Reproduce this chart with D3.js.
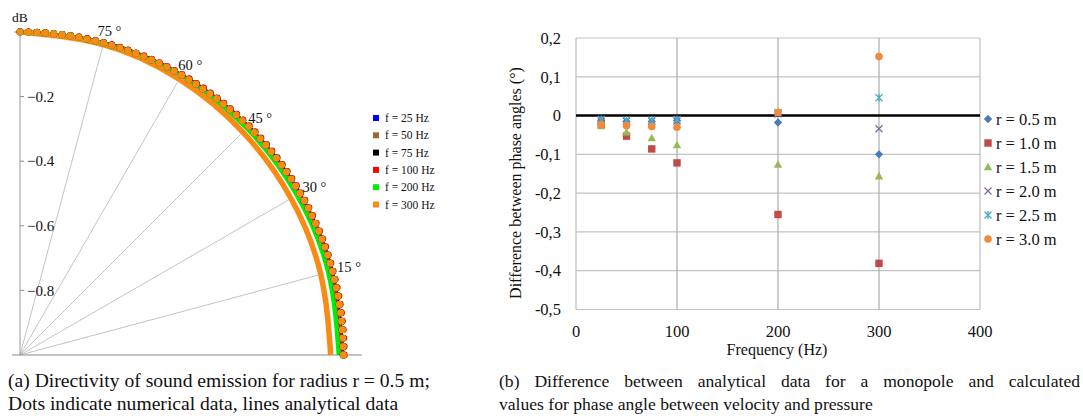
<!DOCTYPE html>
<html><head><meta charset="utf-8">
<script src="https://cdn.jsdelivr.net/npm/d3@7"></script>
<style>
body{margin:0;background:#fff}
svg{display:block}
text{font-family:"Liberation Serif","Times New Roman",serif;fill:#111}
</style>
</head><body>
<svg id="c" width="1083" height="416"></svg>
<script>
// ---------- (a) directivity, polar quarter plot ----------
const freqLabels = ["f = 25 Hz", "f = 50 Hz", "f = 75 Hz", "f = 100 Hz", "f = 200 Hz", "f = 300 Hz"];
const freqColors = ["#0000ff", "#9a6632", "#000000", "#ff0000", "#00ee00", "#f98a14"];
const polarTicks = [-0.2, -0.4, -0.6, -0.8];
const spokeAngles = [15, 30, 45, 60, 75];

// analytical curves (dB), sampled at these angles
const lineAngles = [0, 15, 30, 45, 60, 75, 90];
const line25  = [-0.001, -0.001, -0.001, 0, 0, 0, 0];
const line50  = [-0.001, -0.001, -0.001, -0.001, 0, 0, 0];
const line75  = [-0.002, -0.002, -0.002, -0.001, -0.001, 0, 0];
const line100 = [-0.004, -0.004, -0.003, -0.002, -0.001, 0, 0];
const line200 = [-0.013, -0.012, -0.010, -0.007, -0.004, -0.001, 0];
const line300 = [-0.038, -0.036, -0.031, -0.024, -0.014, -0.005, 0];

// numerical results (dB), one per evaluated angle
const dotAngles = [0,1.5,3,4.5,6,7.5,9,10.5,12,13.5,15,16.5,18,19.5,21,22.5,24,25.5,27,28.5,
  30,31.5,33,34.5,36,37.5,39,40.5,42,43.5,45,46.5,48,49.5,51,52.5,54,55.5,57,58.5,
  60,61.5,63,64.5,66,67.5,69,70.5,72,73.5,75,76.5,78,79.5,81,82.5,84,85.5,87,88.5,90];
const dots25  = [0,0,0,0,0,0,0,0,0,0, 0,0,0,0,0,0,0,0,0,0, 0,0,0,0,0,0,0,0,0,0,
  0,0,0,0,0,0,0,0,0,0, 0,0,0,0,0,0,0,0,0,0, 0,0,0,0,0,0,0,0,0,0, 0];
const dots50  = [0.001,0.001,0.001,0.001,0.001,0.001,0.001,0.001,0.001,0.001,
  0.001,0.001,0.001,0.001,0.001,0.001,0.001,0.001,0.001,0.001, 0,0,0,0,0,0,0,0,0,0,
  0,0,0,0,0,0,0,0,0,0, 0,0,0,0,0,0,0,0,0,0, 0,0,0,0,0,0,0,0,0,0, 0];
const dots75  = [0.002,0.002,0.002,0.002,0.002,0.002,0.002,0.002,0.002,0.002,
  0.002,0.002,0.002,0.002,0.002,0.002,0.002,0.002,0.002,0.002,
  0.002,0.002,0.002,0.002,0.002,0.002,0.002,0.002,0.002,0.002,
  0.002,0.002,0.002,0.002,0.002,0.002,0.002,0.002,0.002,0.002,
  0.001,0.001,0.001,0.001,0.001,0.001,0.001,0.001,0.001,0.001,
  0.001,0.001,0.001,0.001,0.001,0.001,0.001,0.001,0.001,0.001, 0.001];
const dots100 = [0.004,0.004,0.004,0.004,0.004,0.004,0.004,0.004,0.004,0.004,
  0.004,0.004,0.004,0.004,0.004,0.004,0.004,0.004,0.004,0.004,
  0.004,0.004,0.004,0.004,0.004,0.004,0.004,0.004,0.004,0.004,
  0.004,0.003,0.003,0.003,0.003,0.003,0.003,0.003,0.003,0.003,
  0.003,0.003,0.003,0.003,0.003,0.003,0.002,0.002,0.002,0.002,
  0.002,0.002,0.002,0.002,0.002,0.001,0.001,0.001,0.001,0.001, 0.001];
const dots200 = [0.001,0.001,0.001,0.001,0.001,0.001,0.001,0.001,0.001,0.001,
  0.001,0.001,0.001,0.001,0.001,0.001,0.001,0.001,0.001,0.001,
  0.001,0.001,0.001,0.001,0.001,0.001,0.001,0.001,0.001,0.001,
  0.001,0,0,0,0,0,0,0,0,0, 0,0,0,0,0,0,0,0,0,0, 0,0,0,0,0,0,0,0,0,0, 0];
const dots300 = [0.001,0.001,0.001,0.001,0.001,0.001,0.001,0.001,0.001,0.001,
  0.001,0.001,0.001,0.001,0.001,0.001,0.001,0.001,0.001,0.001, 0,0,0,0,0,0,0,0,0,0,
  0,0,0,0,0,0,0,0,0,0, 0,0,0,0,0,0,0,0,0,0, 0,0,0,0,0,0,0,0,0,0, 0];

const lineSeries = [line25, line50, line75, line100, line200, line300];
const dotSeries = [dots25, dots50, dots75, dots100, dots200, dots300];
const lineWidths = [4, 4, 4, 4, 4.5, 5.5];

// ---------- (b) phase-angle difference ----------
const freqHz = [25, 50, 75, 100, 200, 300];
const r05 = [-0.012, -0.015, -0.015, -0.013, -0.018, -0.100];
const r10 = [-0.023, -0.053, -0.086, -0.122, -0.255, -0.381];
const r15 = [-0.027, -0.043, -0.058, -0.076, -0.126, -0.156];
const r20 = [-0.014, -0.015, -0.015, -0.014, 0.004, -0.034];
const r25 = [-0.010, -0.012, -0.012, -0.010, 0.008, 0.046];
const r30 = [-0.024, -0.026, -0.028, -0.030, 0.008, 0.152];
const radiusLabels = ["r = 0.5 m", "r = 1.0 m", "r = 1.5 m", "r = 2.0 m", "r = 2.5 m", "r = 3.0 m"];
const radiusColors = ["#4a7bbd", "#be4b48", "#98b954", "#8064a2", "#4bacc6", "#f08a3c"];
const markerKinds = ["diamond", "square", "triangle", "x", "star", "circle"];
const xTicks = [0, 100, 200, 300, 400];
const yTicks = [0.2, 0.1, 0, -0.1, -0.2, -0.3, -0.4, -0.5];
const yTickLabels = ["0,2", "0,1", "0", "-0,1", "-0,2", "-0,3", "-0,4", "-0,5"];

const svg = d3.select("#c");

// ===== polar plot =====
const cx = 20, cy = 355;
const rScale = d3.scaleLinear().domain([-1, 0]).range([0, 323]);
const pt = (deg, v) => {
  const a = deg * Math.PI / 180, r = rScale(v);
  return [cx + r * Math.cos(a), cy - r * Math.sin(a)];
};
const gA = svg.append("g");

// spokes stop at the inner edge of the 300 Hz curve
spokeAngles.forEach(a => {
  const v = line300[lineAngles.indexOf(a)];
  const r = rScale(v) - lineWidths[5] / 2;
  const t = a * Math.PI / 180;
  gA.append("line").attr("x1", cx).attr("y1", cy)
    .attr("x2", cx + r * Math.cos(t)).attr("y2", cy - r * Math.sin(t))
    .attr("stroke", "#c4c4c4").attr("stroke-width", 1);
});

// axes
gA.append("line").attr("x1", cx).attr("x2", cx).attr("y1", cy - rScale(0)).attr("y2", cy)
  .attr("stroke", "#9a9a9a").attr("stroke-width", 1);
gA.append("line").attr("x1", 12).attr("x2", 362).attr("y1", cy).attr("y2", cy)
  .attr("stroke", "#8a8a8a").attr("stroke-width", 1.2);
gA.append("line").attr("x1", 14).attr("x2", cx).attr("y1", cy - rScale(0)).attr("y2", cy - rScale(0))
  .attr("stroke", "#8a8a8a").attr("stroke-width", 1);
polarTicks.forEach(v => {
  const y = cy - rScale(v);
  gA.append("line").attr("x1", cx).attr("x2", cx + 4).attr("y1", y).attr("y2", y)
    .attr("stroke", "#8a8a8a");
  gA.append("text").attr("x", 27).attr("y", y).attr("dy", "0.35em")
    .style("font-size", "15px").text(d3.format(".1f")(v));
});
gA.append("text").attr("x", 12).attr("y", 22).style("font-size", "13.5px").text("dB");

// analytical lines
const lineGen = d3.line().curve(d3.curveNatural);
lineSeries.forEach((s, i) => {
  gA.append("path")
    .attr("d", lineGen(lineAngles.map((a, k) => pt(a, s[k]))))
    .attr("fill", "none").attr("stroke", freqColors[i]).attr("stroke-width", lineWidths[i]);
});

// numerical dots
dotSeries.forEach((s, i) => {
  gA.append("g").selectAll("circle").data(dotAngles).join("circle")
    .attr("cx", (a, k) => pt(a, s[k])[0])
    .attr("cy", (a, k) => pt(a, s[k])[1])
    .attr("r", 3.4).attr("fill", freqColors[i]);
});

// angle labels
spokeAngles.forEach(a => {
  const t = a * Math.PI / 180;
  gA.append("text")
    .attr("x", cx + 333 * Math.cos(t) - 3 - 6 * Math.sin(t))
    .attr("y", cy - 333 * Math.sin(t) + 3)
    .style("font-size", "14.5px").text(a + " °");
});

// legend
freqLabels.forEach((l, i) => {
  const y = 118 + i * 17.3;
  gA.append("rect").attr("x", 373).attr("y", y - 3).attr("width", 6).attr("height", 6)
    .attr("fill", freqColors[i]);
  gA.append("text").attr("x", 385).attr("y", y).attr("dy", "0.35em")
    .style("font-size", "11.5px").text(l);
});

// ===== scatter plot =====
const x = d3.scaleLinear().domain([0, 400]).range([576, 980]);
const y = d3.scaleLinear().domain([-0.5, 0.2]).range([309.5, 38]);
const gB = svg.append("g");

yTicks.forEach((v, i) => {
  gB.append("line").attr("x1", x(0)).attr("x2", x(400)).attr("y1", y(v)).attr("y2", y(v))
    .attr("stroke", "#c3c3c3").attr("stroke-width", 1.2);
  gB.append("text").attr("x", 561).attr("y", y(v)).attr("dy", "0.35em")
    .attr("text-anchor", "end").style("font-size", "16.5px").text(yTickLabels[i]);
});
xTicks.forEach(v => {
  gB.append("line").attr("x1", x(v)).attr("x2", x(v)).attr("y1", y(0.2)).attr("y2", y(-0.5))
    .attr("stroke", v === 0 || v === 400 ? "#bdbdbd" : "#ababab").attr("stroke-width", 1.2);
  gB.append("text").attr("x", x(v)).attr("y", 337).attr("text-anchor", "middle")
    .style("font-size", "16.5px").text(v);
});
gB.append("line").attr("x1", x(0)).attr("x2", x(400)).attr("y1", y(0)).attr("y2", y(0))
  .attr("stroke", "#000").attr("stroke-width", 2.4);

gB.append("text").attr("x", 777).attr("y", 355).attr("text-anchor", "middle")
  .style("font-size", "16px").text("Frequency (Hz)");
gB.append("text").attr("transform", "translate(521,183) rotate(-90)").attr("text-anchor", "middle")
  .style("font-size", "16px").text("Difference between phase angles (°)");

function marker(g, kind, color, px, py) {
  if (kind === "diamond") {
    g.append("path").attr("transform", `translate(${px},${py})`)
      .attr("d", "M0,-4.2L4.2,0L0,4.2L-4.2,0Z").attr("fill", color);
  } else if (kind === "square") {
    g.append("rect").attr("x", px - 3.7).attr("y", py - 3.7).attr("width", 7.4).attr("height", 7.4)
      .attr("fill", color);
  } else if (kind === "triangle") {
    g.append("path").attr("transform", `translate(${px},${py})`)
      .attr("d", "M0,-4.3L4.2,3.3L-4.2,3.3Z").attr("fill", color);
  } else if (kind === "x") {
    g.append("path").attr("transform", `translate(${px},${py})`)
      .attr("d", "M-3.5,-3.5L3.5,3.5M-3.5,3.5L3.5,-3.5").attr("stroke", color)
      .attr("stroke-width", 1.2).attr("fill", "none");
  } else if (kind === "star") {
    g.append("path").attr("transform", `translate(${px},${py})`)
      .attr("d", "M-3.5,-3.5L3.5,3.5M-3.5,3.5L3.5,-3.5M0,-4L0,4").attr("stroke", color)
      .attr("stroke-width", 1.3).attr("fill", "none");
  } else {
    g.append("circle").attr("cx", px).attr("cy", py).attr("r", 3.8).attr("fill", color);
  }
}

[r05, r10, r15, r20, r25, r30].forEach((s, i) => {
  freqHz.forEach((f, k) => marker(gB, markerKinds[i], radiusColors[i], x(f), y(s[k])));
});

radiusLabels.forEach((l, i) => {
  const ly = 119 + i * 24;
  marker(gB, markerKinds[i], radiusColors[i], 988, ly);
  gB.append("text").attr("x", 996).attr("y", ly).attr("dy", "0.35em")
    .style("font-size", "16.5px").text(l);
});

// ===== captions =====
function caption(str, x0, yb, size, width) {
  const t = svg.append("text").attr("x", x0).attr("y", yb).style("font-size", size + "px").text(str);
  if (width) {
    const natural = t.node().getComputedTextLength();
    const spaces = (str.match(/ /g) || []).length;
    t.style("word-spacing", ((width - natural) / spaces) + "px");
  }
}
caption("(a) Directivity of sound emission for radius r = 0.5 m;", 8, 387, 19.6);
caption("Dots indicate numerical data, lines analytical data", 8, 410, 19.6);
caption("(b) Difference between analytical data for a monopole and calculated", 499, 387, 17.6, 581);
caption("values for phase angle between velocity and pressure", 499, 410, 17.6);
</script>
</body></html>
